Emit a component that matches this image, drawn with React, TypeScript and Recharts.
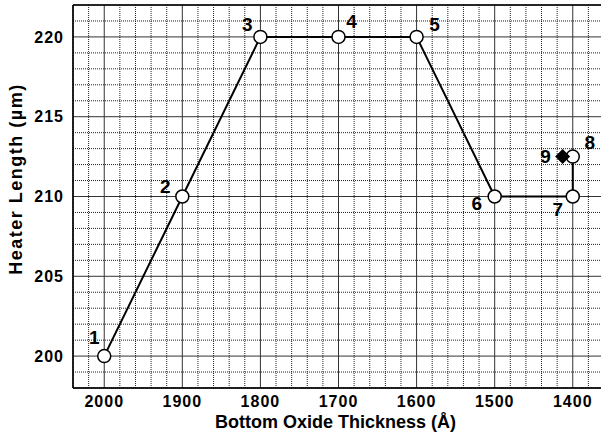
import React from "react";
import {
  ComposedChart,
  Line,
  Scatter,
  XAxis,
  YAxis,
  CartesianGrid,
  ReferenceLine,
  LabelList,
  Label,
} from "recharts";

// heater length vs bottom oxide thickness, steps 1..8 plus the extra point 9
const THICKNESS = [2000, 1900, 1800, 1700, 1600, 1500, 1400, 1400];
const LENGTH = [200, 210, 220, 220, 220, 210, 210, 212.5];
const STEP_NAMES = ["1", "2", "3", "4", "5", "6", "7", "8"];

const EXTRA_THICKNESS = [1413];
const EXTRA_LENGTH = [212.5];
const EXTRA_NAMES = ["9"];

const X_TICKS = [2000, 1900, 1800, 1700, 1600, 1500, 1400];
const Y_TICKS = [200, 205, 210, 215, 220];
const X_MINOR = [
  1360, 1380, 1400, 1420, 1440, 1460, 1480, 1500, 1520, 1540, 1560, 1580,
  1600, 1620, 1640, 1660, 1680, 1700, 1720, 1740, 1760, 1780, 1800, 1820,
  1840, 1860, 1880, 1900, 1920, 1940, 1960, 1980, 2000, 2020, 2040,
];
const Y_MINOR = [
  198, 199, 200, 201, 202, 203, 204, 205, 206, 207, 208, 209, 210, 211, 212,
  213, 214, 215, 216, 217, 218, 219, 220, 221,
];

const steps = THICKNESS.map((x, i) => ({ x, y: LENGTH[i], name: STEP_NAMES[i] }));
const extra = EXTRA_THICKNESS.map((x, i) => ({ x, y: EXTRA_LENGTH[i], name: EXTRA_NAMES[i] }));

// label offset from its point, in px
const STEP_LABEL_OFFSETS = [
  [-10, -19],
  [-17, -10],
  [-13, -12],
  [13, -15],
  [18, -12],
  [-18, 7],
  [-15, 13],
  [17, -14],
];

const FONT = "'Liberation Sans', Arial, sans-serif";

const stepLabel = (props: any) => {
  const { x, y, value, index } = props;
  const [dx, dy] = STEP_LABEL_OFFSETS[index] || [0, 0];
  return (
    <text
      x={x + dx}
      y={y + dy}
      textAnchor="middle"
      dominantBaseline="central"
      fontSize={19}
      fontWeight="bold"
      fontFamily={FONT}
      fill="#000"
    >
      {value}
    </text>
  );
};

const extraLabel = (props: any) => {
  const { x, y, width, height, value } = props;
  const cx = x + (width || 0) / 2;
  const cy = y + (height || 0) / 2;
  return (
    <text
      x={cx - 17}
      y={cy}
      textAnchor="middle"
      dominantBaseline="central"
      fontSize={19}
      fontWeight="bold"
      fontFamily={FONT}
      fill="#000"
    >
      {value}
    </text>
  );
};

const Diamond = (props: any) => {
  const { cx, cy } = props;
  const r = 7.5;
  return (
    <polygon
      points={`${cx},${cy - r} ${cx + r},${cy} ${cx},${cy + r} ${cx - r},${cy}`}
      fill="#000"
    />
  );
};

const tickStyle = {
  fill: "#000",
  fontSize: 16,
  fontWeight: "bold",
  fontFamily: FONT,
  letterSpacing: 1,
};

const minorX = X_MINOR.filter((v) => !X_TICKS.includes(v));
const minorY = Y_MINOR.filter((v) => !Y_TICKS.includes(v));

export default function App() {
  return (
    <div style={{ position: "absolute", left: 0, top: 0 }}>
      <ComposedChart
        width={604}
        height={439}
        margin={{ top: 5, right: 0, bottom: 11, left: 8 }}
        style={{ fontFamily: FONT }}
      >
        <CartesianGrid stroke="#333" strokeWidth={1} />
        {minorX.map((v) => (
          <ReferenceLine key={"mx" + v} x={v} stroke="#222" strokeDasharray="1 1" />
        ))}
        {minorY.map((v) => (
          <ReferenceLine key={"my" + v} y={v} stroke="#222" strokeDasharray="1 1" />
        ))}
        <XAxis
          xAxisId="minor"
          type="number"
          dataKey="x"
          domain={[1360, 2040]}
          ticks={X_MINOR}
          reversed
          mirror
          height={0}
          tickSize={5}
          tickFormatter={() => ""}
          tickLine={{ stroke: "#000", strokeWidth: 1 }}
          axisLine={false}
        />
        <XAxis
          type="number"
          dataKey="x"
          domain={[1360, 2040]}
          ticks={X_TICKS}
          reversed
          allowDataOverflow
          height={40}
          tickLine={false}
          tickMargin={2}
          tick={tickStyle}
          axisLine={{ stroke: "#000", strokeWidth: 1.5 }}
        >
          <Label
            value="Bottom Oxide Thickness (Å)"
            position="insideBottom"
            offset={0}
            dx={-3}
            style={{ fontSize: 18, fontWeight: "bold", fontFamily: FONT, fill: "#000" }}
          />
        </XAxis>
        <YAxis
          type="number"
          domain={[198, 222]}
          ticks={Y_TICKS}
          allowDataOverflow
          width={65}
          tickLine={false}
          tickMargin={3}
          tick={tickStyle}
          axisLine={{ stroke: "#000", strokeWidth: 1.5 }}
        >
          <Label
            content={() => (
              <text
                x={22}
                y={179}
                transform="rotate(-90 22 179)"
                textAnchor="middle"
                fontSize={18}
                fontWeight="bold"
                fontFamily={FONT}
                letterSpacing={1.5}
                fill="#000"
              >
                Heater Length (µm)
              </text>
            )}
          />
        </YAxis>
        <ReferenceLine y={222} stroke="#000" strokeWidth={1.5} />
        <Line
          data={steps}
          dataKey="y"
          stroke="#000"
          strokeWidth={2}
          dot={{ r: 6.5, fill: "#fff", stroke: "#000", strokeWidth: 1.5 }}
          isAnimationActive={false}
        >
          <LabelList dataKey="name" content={stepLabel} />
        </Line>
        <Scatter data={extra} dataKey="y" shape={<Diamond />} isAnimationActive={false}>
          <LabelList dataKey="name" content={extraLabel} />
        </Scatter>
      </ComposedChart>
    </div>
  );
}
